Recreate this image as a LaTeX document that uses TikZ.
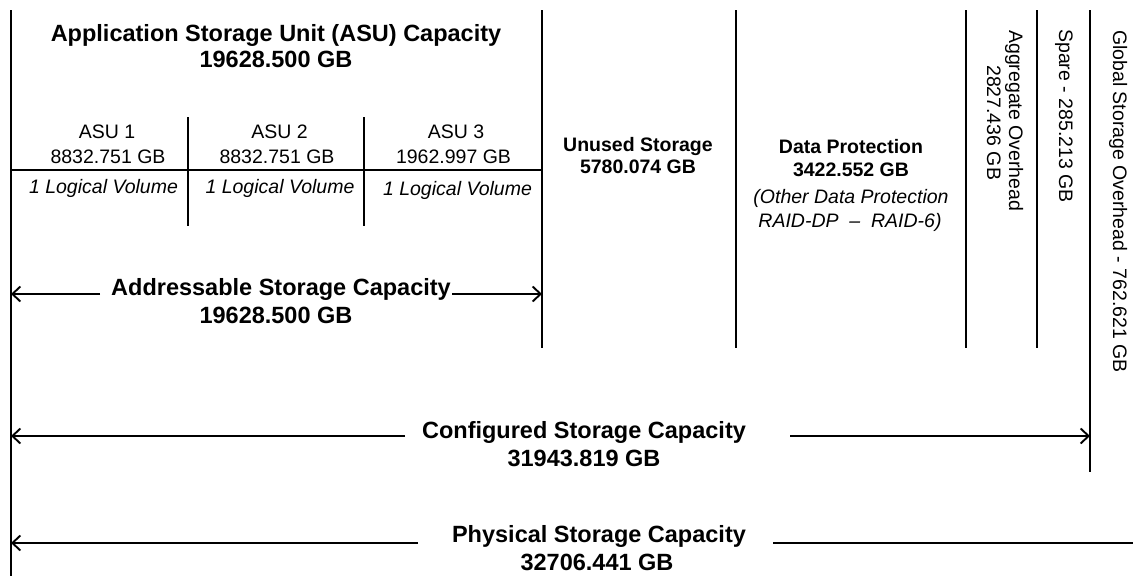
\documentclass[tikz,border=0pt]{standalone}
\usepackage{fontspec}
\setmainfont{Liberation Sans}
\usetikzlibrary{arrows.meta}
\begin{document}
\begin{tikzpicture}[x=1pt,y=-1pt,
  rule/.style={line width=1.9pt},
  arr/.style={line width=1.9pt,-{Straight Barb[length=8pt,width=15pt]}},
  big/.style={font=\bfseries\fontsize{23.5}{26}\selectfont, inner sep=0pt, anchor=base},
  mid/.style={font=\bfseries\fontsize{19.5}{23}\selectfont, inner sep=0pt, anchor=base},
  reg/.style={font=\fontsize{19.5}{23}\selectfont, inner sep=0pt, anchor=base},
  ital/.style={font=\itshape\fontsize{19.5}{23}\selectfont, inner sep=0pt, anchor=base},
  vert/.style={font=\fontsize{19.5}{23}\selectfont, inner sep=0pt, anchor=base west, rotate=-90},
]
\useasboundingbox[fill=white] (0,0) rectangle (1133,576);

% frame lines
\draw[rule] (11,10) -- (11,576);
\draw[rule] (542,10) -- (542,348);
\draw[rule] (736,10) -- (736,348);
\draw[rule] (966,10) -- (966,348);
\draw[rule] (1037,10) -- (1037,348);
\draw[rule] (1090,10) -- (1090,472);
\draw[rule] (188,117) -- (188,226);
\draw[rule] (364,117) -- (364,226);
\draw[rule] (11,170) -- (542,170);

% ASU capacity header
\node[big] (asut) at (276,41) {Application Storage Unit (ASU) Capacity};
\node[big] (asuv) at (276,67) {19628.500 GB};

% ASU columns
\node[reg] (asu1) at (107,138) {ASU 1};
\node[reg] (asu1v) at (108,163) {8832.751 GB};
\node[ital] (lv1) at (103.5,193) {1 Logical Volume};
\node[reg] (asu2) at (279.5,138) {ASU 2};
\node[reg] (asu2v) at (277,163) {8832.751 GB};
\node[ital] (lv2) at (280,193) {1 Logical Volume};
\node[reg] (asu3) at (456,138) {ASU 3};
\node[reg] (asu3v) at (453.5,163) {1962.997 GB};
\node[ital] (lv3) at (457.5,195) {1 Logical Volume};

% Unused / Data protection
\node[mid] (un) at (638,151) {Unused Storage};
\node[mid] (unv) at (638,173) {5780.074 GB};
\node[mid] (dp) at (851,153) {Data Protection};
\node[mid] (dpv) at (851,176) {3422.552 GB};
\node[ital] (dpo) at (851,203) {(Other Data Protection};
\node[ital] (dpr) at (850,227) {RAID-DP~~–~~RAID-6)};

% rotated overheads
\node[vert] (agg) at (1009,30) {Aggregate Overhead};
\node[vert] (aggv) at (987,65) {2827.436 GB};
\node[vert] (spare) at (1059,29) {Spare - 285.213 GB};
\node[vert] (glob) at (1113,30) {Global Storage Overhead - 762.621 GB};

% Addressable
\node[big] (addr) at (281,295) {Addressable Storage Capacity};
\node[big] (addrv) at (276,323) {19628.500 GB};
\coordinate (aL) at (11,294);
\coordinate (aR) at (542,294);
\coordinate (a1) at (100,294);
\coordinate (a2) at (452,294);
\draw[arr] (a1) -- (aL);
\draw[arr] (a2) -- (aR);

% Configured
\node[big] (conf) at (584,438) {Configured Storage Capacity};
\node[big] (confv) at (584,466) {31943.819 GB};
\coordinate (cL) at (11,436);
\coordinate (cR) at (1090,436);
\coordinate (c1) at (405,436);
\coordinate (c2) at (790,436);
\draw[arr] (c1) -- (cL);
\draw[arr] (c2) -- (cR);

% Physical
\node[big] (phys) at (599,542) {Physical Storage Capacity};
\node[big] (physv) at (597,570) {32706.441 GB};
\coordinate (pL) at (11,543);
\coordinate (pR) at (1133,543);
\coordinate (p1) at (418,543);
\coordinate (p2) at (773,543);
\draw[arr] (p1) -- (pL);
\draw[rule] (p2) -- (pR);
\end{tikzpicture}
\end{document}
